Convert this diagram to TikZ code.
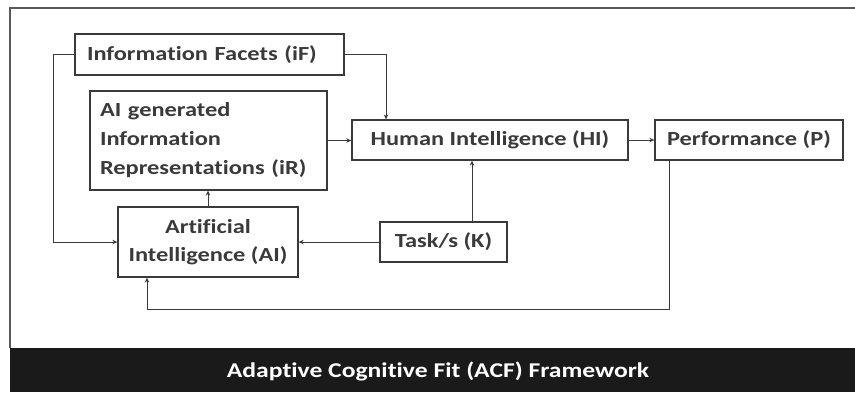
\documentclass[tikz,border=0pt]{standalone}
\usepackage{fontspec}
\setmainfont{Carlito}[FakeStretch=1.22, Ligatures=NoCommon]
\usetikzlibrary{arrows.meta}

\definecolor{ink}{HTML}{3A3A3A}
\definecolor{barblack}{HTML}{1A1A1A}

\begin{document}
\begin{tikzpicture}[x=1pt, y=-1pt,
  bx/.style={draw=ink, line width=1.3pt, inner sep=0pt, text=ink,
    font=\fontsize{20}{29}\selectfont\bfseries},
  arr/.style={draw=ink, line width=0.9pt, -{Stealth[length=5pt,width=4.5pt]}}]

\useasboundingbox (0,0) rectangle (855,392);

% --- Frame and title bar ---
\draw[gray!70!black, line width=2pt] (856,8) -- (10,8) -- (10,348);
\fill[barblack] (10,348) rectangle (855,392);
\node[text=white, font=\fontsize{21}{25}\selectfont\bfseries] (title) at (438,371)
  {Adaptive Cognitive Fit (ACF) Framework};

% --- Boxes ---
\node[bx, minimum width=269pt, minimum height=41pt,
  text width=245pt, align=left] (iF) at (209.5,54.5)
  {Information Facets (iF)};
\node[bx, minimum width=237pt, minimum height=99pt,
  text width=217pt, align=left] (iR) at (208.5,140.5)
  {AI generated\\Information\\Representations (iR)};
\node[bx, minimum width=276pt, minimum height=40pt] (HI) at (490,140)
  {Human Intelligence (HI)};
\node[bx, minimum width=188pt, minimum height=40pt] (P) at (749,140)
  {Performance (P)};
\node[bx, minimum width=180pt, minimum height=70pt, align=center,
  font=\fontsize{20}{28}\selectfont\bfseries] (AI) at (208,242)
  {Artificial\\Intelligence (AI)};
\node[bx, minimum width=127pt, minimum height=40pt] (K) at (443.5,242)
  {Task/s (K)};

% --- Routing points ---
\coordinate (lft) at (53,0);
\coordinate (ifx) at (386,0);
\coordinate (kx) at (472,0);
\coordinate (px) at (669,0);
\coordinate (aix) at (147,0);
\coordinate (low) at (0,309);

% --- Connectors ---
\draw[arr] (iF.west) -| (lft |- AI.west) -- (AI.west);
\draw[arr] (iF.east) -| (ifx |- HI.north);
\draw[arr] (iR.east) -- (iR.east -| HI.west);
\draw[arr] (HI.east) -- (P.west);
\draw[arr] (AI.north) -- (AI.north |- iR.south);
\draw[arr] (kx |- K.north) -- (kx |- HI.south);
\draw[arr] (K.west) -- (AI.east);
\draw[arr] (px |- P.south) -- (px |- low) -| (aix |- AI.south);

\end{tikzpicture}
\end{document}
